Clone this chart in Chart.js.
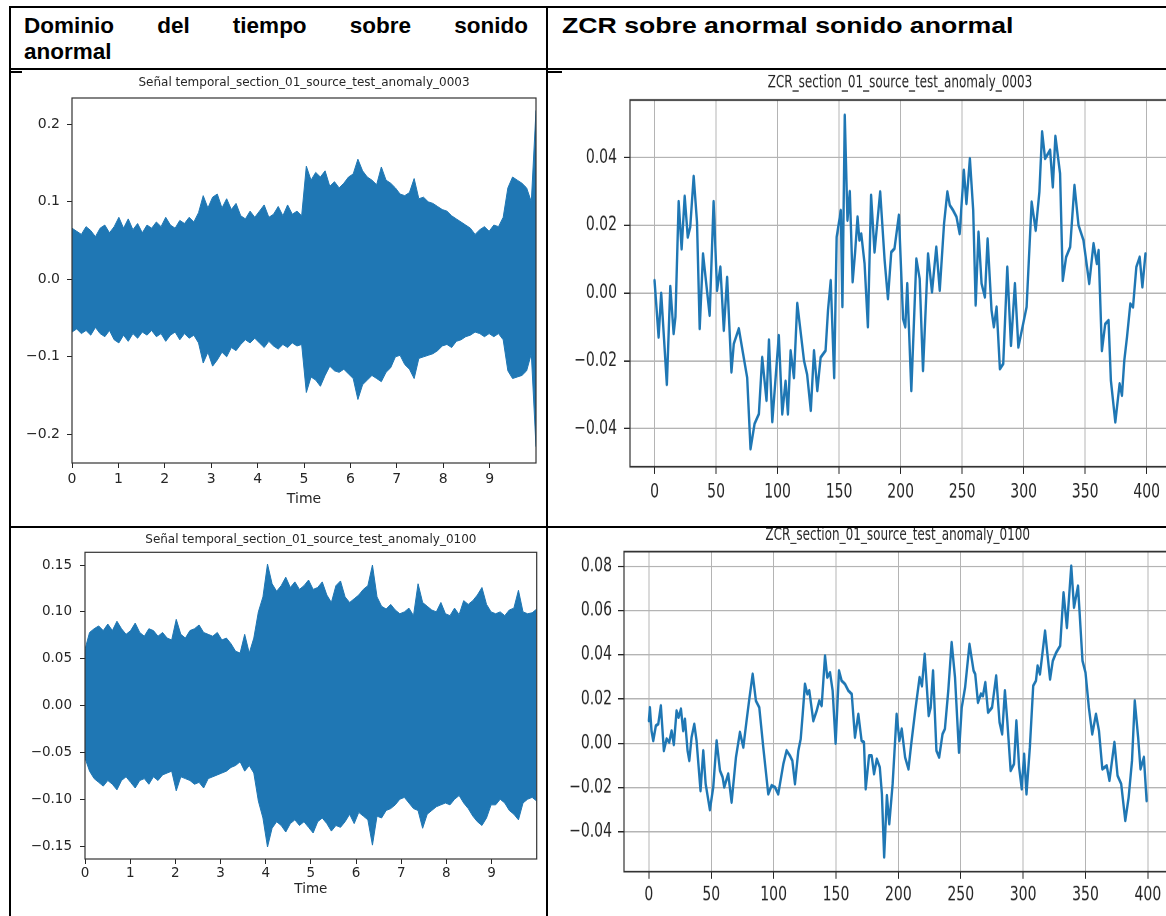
<!DOCTYPE html>
<html lang="es">
<head>
<meta charset="utf-8">
<title>Dominio del tiempo y ZCR sobre sonido anormal</title>
<script src="https://cdn.jsdelivr.net/npm/chart.js@4.4.1/dist/chart.umd.min.js"></script>
<style>
  html, body { margin: 0; padding: 0; background: #fff; overflow: hidden; }
  body { width: 1166px; height: 916px; position: relative; }
  .rule { position: absolute; background: #000; }
  .head { position: absolute; top: 12.5px; font: bold 22.5px/26px "Liberation Sans", Arial, sans-serif; color: #000; }
  #headLeft { left: 24px; width: 504px; }
  #headLeft .line1 { text-align: justify; text-align-last: justify; }
  #headRight { left: 562px; white-space: nowrap; transform: scaleX(1.184); transform-origin: left top; }
  canvas { position: absolute; }
  /* las figuras ZCR van estiradas en vertical */
  .zcr { transform: scaleY(1.4); transform-origin: left top; }
</style>
</head>
<body>

<div class="rule" style="left:9px; top:6px; width:1157px; height:2px"></div>
<div class="rule" style="left:9px; top:6px; width:2px; height:910px"></div>
<div class="rule" style="left:546px; top:6px; width:2px; height:910px"></div>
<div class="rule" style="left:9px; top:68px; width:1157px; height:2px"></div>
<div class="rule" style="left:9px; top:526px; width:1157px; height:2px"></div>
<div class="rule" style="left:11px; top:71px; width:11px; height:1.5px"></div>
<div class="rule" style="left:548px; top:71px; width:14px; height:1.5px"></div>

<div class="head" id="headLeft"><div class="line1">Dominio del tiempo sobre sonido</div><div>anormal</div></div>
<div class="head" id="headRight">ZCR sobre anormal sonido anormal</div>

<canvas id="wave0003" width="534" height="446" style="left:12px; top:72px"></canvas>
<canvas id="zcr0003" class="zcr" width="630" height="318" style="left:550px; top:72px"></canvas>
<canvas id="wave0100" width="534" height="387" style="left:12px; top:529px"></canvas>
<canvas id="zcr0100" class="zcr" width="632" height="277" style="left:550px; top:528px"></canvas>

<script>
// Señal temporal: envolvente (máximo / mínimo), 100 muestras repartidas en los 10 s
const waveSeconds = 10;

const wave0003Upper = [
  0.066, 0.062, 0.058, 0.068, 0.063, 0.055, 0.066, 0.070, 0.060, 0.068,
  0.080, 0.066, 0.078, 0.064, 0.072, 0.060, 0.070, 0.066, 0.074, 0.068,
  0.080, 0.070, 0.066, 0.076, 0.072, 0.080, 0.074, 0.086, 0.108, 0.092,
  0.106, 0.110, 0.092, 0.104, 0.090, 0.098, 0.082, 0.078, 0.088, 0.080,
  0.088, 0.096, 0.080, 0.084, 0.094, 0.082, 0.096, 0.084, 0.088, 0.082,
  0.146, 0.128, 0.138, 0.132, 0.140, 0.120, 0.126, 0.118, 0.124, 0.132,
  0.136, 0.155, 0.140, 0.132, 0.128, 0.122, 0.145, 0.128, 0.124, 0.118,
  0.110, 0.108, 0.112, 0.130, 0.104, 0.106, 0.100, 0.098, 0.094, 0.090,
  0.088, 0.082, 0.078, 0.074, 0.070, 0.066, 0.058, 0.064, 0.068, 0.062,
  0.070, 0.068, 0.080, 0.118, 0.132, 0.128, 0.124, 0.118, 0.100, 0.218
];
const wave0003Lower = [
  -0.068, -0.064, -0.070, -0.066, -0.072, -0.062, -0.070, -0.074, -0.066, -0.078,
  -0.082, -0.072, -0.080, -0.070, -0.076, -0.068, -0.072, -0.066, -0.074, -0.070,
  -0.080, -0.072, -0.068, -0.078, -0.070, -0.076, -0.072, -0.082, -0.108, -0.094,
  -0.112, -0.104, -0.094, -0.100, -0.088, -0.092, -0.084, -0.078, -0.082, -0.076,
  -0.082, -0.088, -0.080, -0.086, -0.090, -0.084, -0.088, -0.082, -0.086, -0.084,
  -0.146, -0.126, -0.130, -0.138, -0.124, -0.112, -0.118, -0.120, -0.116, -0.122,
  -0.128, -0.155, -0.136, -0.130, -0.124, -0.128, -0.132, -0.120, -0.114, -0.100,
  -0.098, -0.110, -0.116, -0.128, -0.102, -0.100, -0.098, -0.096, -0.092, -0.086,
  -0.084, -0.088, -0.080, -0.078, -0.074, -0.072, -0.068, -0.070, -0.074, -0.070,
  -0.074, -0.070, -0.078, -0.118, -0.128, -0.126, -0.124, -0.118, -0.096, -0.216
];

const wave0100Upper = [
  0.060, 0.078, 0.082, 0.085, 0.080, 0.087, 0.080, 0.090, 0.082, 0.076,
  0.080, 0.088, 0.078, 0.074, 0.082, 0.080, 0.074, 0.078, 0.072, 0.070,
  0.092, 0.076, 0.072, 0.080, 0.082, 0.086, 0.078, 0.076, 0.074, 0.078,
  0.070, 0.072, 0.066, 0.058, 0.056, 0.076, 0.056, 0.072, 0.100, 0.116,
  0.151, 0.130, 0.122, 0.128, 0.137, 0.126, 0.132, 0.124, 0.128, 0.134,
  0.124, 0.126, 0.132, 0.118, 0.110, 0.128, 0.133, 0.116, 0.110, 0.114,
  0.118, 0.124, 0.128, 0.150, 0.116, 0.106, 0.103, 0.108, 0.102, 0.098,
  0.100, 0.104, 0.096, 0.130, 0.110, 0.106, 0.102, 0.100, 0.110, 0.098,
  0.096, 0.104, 0.097, 0.112, 0.108, 0.112, 0.118, 0.126, 0.108, 0.100,
  0.098, 0.100, 0.096, 0.102, 0.104, 0.123, 0.100, 0.098, 0.099, 0.103
];
const wave0100Lower = [
  -0.056, -0.070, -0.078, -0.082, -0.086, -0.080, -0.084, -0.090, -0.080, -0.076,
  -0.082, -0.088, -0.080, -0.078, -0.084, -0.076, -0.080, -0.074, -0.072, -0.070,
  -0.091, -0.076, -0.078, -0.080, -0.084, -0.082, -0.088, -0.078, -0.076, -0.074,
  -0.072, -0.070, -0.066, -0.064, -0.060, -0.070, -0.064, -0.072, -0.102, -0.120,
  -0.151, -0.131, -0.124, -0.128, -0.135, -0.126, -0.122, -0.128, -0.124, -0.130,
  -0.136, -0.124, -0.120, -0.126, -0.134, -0.128, -0.130, -0.124, -0.116, -0.126,
  -0.114, -0.118, -0.122, -0.149, -0.118, -0.120, -0.112, -0.110, -0.106, -0.100,
  -0.098, -0.104, -0.110, -0.112, -0.131, -0.116, -0.112, -0.108, -0.106, -0.104,
  -0.106, -0.100, -0.096, -0.104, -0.110, -0.118, -0.124, -0.128, -0.120, -0.106,
  -0.106, -0.100, -0.104, -0.112, -0.116, -0.122, -0.104, -0.100, -0.098, -0.102
];

const timeTicks = [0, 1, 2, 3, 4, 5, 6, 7, 8, 9];
const timeLabels = ['0', '1', '2', '3', '4', '5', '6', '7', '8', '9'];
const wave0003YTicks = [-0.2, -0.1, 0, 0.1, 0.2];
const wave0003YLabels = ['\u22120.2', '\u22120.1', '0.0', '0.1', '0.2'];
const wave0100YTicks = [-0.15, -0.10, -0.05, 0, 0.05, 0.10, 0.15];
const wave0100YLabels = ['\u22120.15', '\u22120.10', '\u22120.05', '0.00', '0.05', '0.10', '0.15'];

// ZCR por trama
const zcr0003Frames = [
  0, 3.3, 5.4, 10, 12.8, 15.5, 17, 19.6, 22, 24.5, 27, 29, 31.8, 34.5, 36.7, 39.4,
  44.8, 48, 50.8, 53.5, 56.3, 59, 62.5, 64.4, 68.5, 72, 75.3, 78, 81.3, 84.8, 87.5,
  91, 93, 95.7, 101, 103.8, 106.5, 108.4, 110.6, 113.3, 116, 121.5, 124, 127, 129.6,
  132.3, 135, 139, 141, 143.2, 146, 148, 151.4, 152.7, 154.6, 156.8, 158.7, 161, 163,
  165, 166.5, 168, 170.7, 173.4, 176, 178.8, 183.4, 187, 189.7, 192.4, 195, 198.6,
  202, 203.8, 205.4, 208.7, 212.8, 215.5, 218.2, 222.3, 225.5, 229, 231.8, 235.3,
  238, 240, 242.7, 245.4, 248, 251.4, 253.5, 256.3, 259, 261, 263.3, 265.8, 268.5,
  270.7, 273.9, 275.8, 278, 280.7, 283.4, 286.7, 289.7, 292.9, 295.7, 302.4, 306.5,
  309.8, 312.8, 315, 317.4, 321.5, 323.7, 325.8, 329.6, 331.8, 334.5, 337.8, 341.3,
  344.6, 348.6, 353.3, 356.8, 359.5, 360.9, 363.6, 366.3, 369, 370.9, 374.5, 378,
  379.9, 381.8, 384, 386.7, 388.9, 391.6, 394.3, 396.5, 399
];
const zcr0003Values = [
  0.0037, -0.013, 0.0, -0.027, 0.002, -0.012, -0.007, 0.027, 0.013, 0.0286, 0.0165, 0.0195, 0.0345, 0.021, -0.0105, 0.0116,
  -0.0066, 0.027, 0.0008, 0.0077, -0.011, 0.0047, -0.0233, -0.015, -0.0105, -0.018, -0.025, -0.046, -0.0386, -0.0357, -0.019,
  -0.0317, -0.0138, -0.038, -0.0125, -0.0357, -0.026, -0.0357, -0.017, -0.025, -0.003, -0.02, -0.024, -0.0347, -0.017,
  -0.0288, -0.019, -0.017, -0.005, 0.0037, -0.025, 0.0165, 0.0244, -0.004, 0.0525, 0.0215, 0.030, 0.0033, 0.012,
  0.0225, 0.0156, 0.0175, 0.0087, -0.010, 0.0289, 0.0121, 0.0299, 0.0097, -0.0017, 0.0121, 0.0131, 0.023,
  -0.0076, -0.010, 0.0028, -0.0288, 0.0101, 0.0042, -0.0229, 0.0116, 0.0003, 0.0136, 0.0008, 0.0205,
  0.0299, 0.0259, 0.0244, 0.0225, 0.0175, 0.0363, 0.0264, 0.0397, 0.0244, -0.0036, 0.018, 0.0028, -0.0012,
  0.016, -0.0051, -0.010, -0.0041, -0.0224, -0.0209, 0.0077, -0.0155, 0.0028, -0.016, -0.0041, 0.0269,
  0.0185, 0.0299, 0.0476, 0.0397, 0.0422, 0.0313, 0.0463, 0.0353, 0.0037, 0.0106, 0.0136, 0.0318,
  0.02, 0.0156, 0.0028, 0.0146, 0.0087, 0.0126, -0.017, -0.0091, -0.0081, -0.0258, -0.0381, -0.0268,
  -0.0302, -0.0199, -0.013, -0.0032, -0.0041, 0.0077, 0.0106, 0.0018, 0.0116
];

const zcr0100Frames = [
  0, 0.8, 2.1, 3.5, 5.6, 7.5, 9.6, 12, 14.2, 16.3, 18.2, 20, 22.2, 23.8, 25.7, 27.5, 28.9,
  31, 32.4, 34.2, 36.4, 38.2, 41.4, 43.6, 45.5, 48.9, 51.6, 54.3, 57, 59.1, 60.4, 63.6,
  66.3, 69.8, 73, 75.7, 78.3, 80.5, 83.2, 85.8, 88.5, 91.7, 95.7, 98.4, 101, 103.7,
  107.8, 110.4, 113.1, 115, 117.1, 119.8, 121.7, 123.3, 125.1, 127, 128.6, 131.8,
  134.5, 136.6, 138.5, 141.2, 143, 145.2, 147.3, 149.7, 152.4, 154.5, 157.2, 159.9,
  162.6, 165.2, 167.9, 170.5, 172.4, 173.8, 176.5, 178.6, 180.5, 182.7, 185.1, 186.8,
  188.6, 190.8, 192.7, 195.4, 198.6, 200.8, 202.7, 205.4, 208.1, 210.3, 213.5, 217,
  218.9, 221.1, 224.3, 225.9, 227.8, 230.5, 232.7, 235.4, 237.3, 240, 242.7, 245.4,
  248.6, 250.8, 253.5, 257, 260.3, 261.6, 263.8, 266.2, 267.8, 269.7, 271.9, 275.1,
  278.4, 281.1, 283.2, 285.4, 287.3, 290, 292.7, 294.6, 296.8, 298.9, 300.8, 302.7,
  305.4, 308.1, 310.3, 311.6, 313.5, 315.1, 317.6, 319.2, 321.6, 323.8, 326.5, 329.7,
  332.4, 335.1, 338.6, 340.8, 344, 347.6, 350, 352.7, 355.4, 358.4, 360.8, 363.5, 367,
  369.2, 373.2, 375.7, 378.6, 381.9, 384.6, 387.3, 389.5, 392.2, 394.1, 396.8, 399
];
const zcr0100Values = [
  0.0102, 0.0162, 0.0057, 0.0012, 0.008, 0.0087, 0.017, -0.0033, 0.002, 0.0005, 0.0057, -0.0006, 0.0147, 0.0117, 0.0155, 0.0057, 0.011,
  -0.0033, -0.0078, 0.0027, 0.0087, 0.0012, -0.0214, -0.0033, -0.0183, -0.030, -0.0198, 0.0012, -0.0123, -0.0153, -0.0198, -0.0138,
  -0.0266, -0.0063, 0.005, -0.0018, 0.0102, 0.02, 0.0313, 0.0192, 0.0162, -0.0018, -0.0229, -0.0191, -0.0198, -0.0229,
  -0.0093, -0.0033, -0.0056, -0.0078, -0.0183, -0.0033, 0.002, 0.0132, 0.0268, 0.0223, 0.0238, 0.0102,
  0.0147, 0.0192, 0.017, 0.0395, 0.0298, 0.032, 0.0238, 0.0, 0.0328, 0.0283, 0.0268, 0.0238,
  0.0223, 0.0027, 0.0132, 0.0012, 0.0005, -0.0206, -0.0056, -0.0056, -0.0138, -0.0071, -0.0108, -0.0229,
  -0.0514, -0.0236, -0.0364, -0.0183, 0.0132, 0.0012, 0.0065, -0.0063, -0.0116, -0.0003, 0.0147, 0.0298,
  0.026, 0.0403, 0.0125, 0.0162, 0.0328, -0.0033, -0.0063, 0.0042, 0.0065, 0.0238, 0.0456, 0.0298,
  -0.0041, 0.0162, 0.0253, 0.0448, 0.0328, 0.0313, 0.0185, 0.0223, 0.0215, 0.0275, 0.014, 0.0162,
  0.0305, 0.0095, 0.0042, 0.0238, 0.0102, -0.0123, -0.0093, 0.0102, -0.0108, -0.0206, -0.0048, -0.0229,
  -0.0018, 0.026, 0.0283, 0.035, 0.0313, 0.0388, 0.0508, 0.0418, 0.029, 0.0373, 0.041, 0.0441,
  0.0681, 0.0523, 0.0801, 0.0614, 0.0711, 0.0373, 0.032, 0.0162, 0.0042, 0.0132, 0.0057, -0.0116, -0.0101,
  -0.0168, 0.0005, -0.0146, -0.0183, -0.0349, -0.0244, -0.0078, 0.0192, 0.0027, -0.0116, -0.0063, -0.0259
];

const frameTicks = [0, 50, 100, 150, 200, 250, 300, 350, 400];
const frameLabels = ['0', '50', '100', '150', '200', '250', '300', '350', '400'];
const zcr0003YTicks = [-0.04, -0.02, 0, 0.02, 0.04];
const zcr0003YLabels = ['\u22120.04', '\u22120.02', '0.00', '0.02', '0.04'];
const zcr0100YTicks = [-0.04, -0.02, 0, 0.02, 0.04, 0.06, 0.08];
const zcr0100YLabels = ['\u22120.04', '\u22120.02', '0.00', '0.02', '0.04', '0.06', '0.08'];

const BLUE = '#1f77b4';
const INK = '#262626';
const FONT = "'DejaVu Sans', sans-serif";

// marco completo alrededor del área de datos
const framePlugin = {
  id: 'frame',
  afterDatasetsDraw(chart) {
    const { ctx, chartArea: a } = chart;
    ctx.save();
    ctx.strokeStyle = '#333';
    ctx.lineWidth = 1.2;
    ctx.strokeRect(a.left, a.top, a.right - a.left, a.bottom - a.top);
    ctx.restore();
  }
};

// título centrado sobre el área de datos
const plotTitlePlugin = {
  id: 'plotTitle',
  afterDraw(chart, args, opts) {
    const { ctx, chartArea: a } = chart;
    ctx.save();
    ctx.font = '12px ' + FONT;
    ctx.fillStyle = INK;
    ctx.textAlign = 'center';
    ctx.textBaseline = 'middle';
    ctx.fillText(opts.text, (a.left + a.right) / 2, opts.y);
    ctx.restore();
  }
};

function axis(o) {
  return {
    type: 'linear',
    min: o.min,
    max: o.max,
    offset: false,
    afterBuildTicks: s => { s.ticks = o.ticks.map(v => ({ value: v })); },
    afterFit: s => { if (s.isHorizontal()) s.height = o.size; else s.width = o.size; },
    border: { display: false },
    grid: {
      offset: false,
      drawOnChartArea: !!o.grid,
      color: '#b4b4b4',
      lineWidth: 1,
      tickColor: INK,
      tickLength: o.tickLength,
      drawTicks: true
    },
    ticks: {
      autoSkip: false,
      maxRotation: 0,
      padding: o.pad,
      color: INK,
      font: { family: FONT, size: o.font },
      callback: (v, i) => o.labels[i]
    },
    title: o.title
      ? { display: true, text: o.title, color: INK, font: { family: FONT, size: o.font }, padding: { top: 0, bottom: o.titlePad } }
      : { display: false }
  };
}

// banda de la forma de onda: relleno entre envolvente superior e inferior
function waveChart(id, upper, lower, cfg) {
  const times = upper.map((_, i) => i * waveSeconds / (upper.length - 1));
  const edge = { borderColor: BLUE, backgroundColor: BLUE, borderWidth: 1, pointRadius: 0, tension: 0 };
  return new Chart(document.getElementById(id), {
    type: 'line',
    data: {
      datasets: [
        { ...edge, data: times.map((t, i) => ({ x: t, y: upper[i] })), fill: '+1' },
        { ...edge, data: times.map((t, i) => ({ x: t, y: lower[i] })), fill: false }
      ]
    },
    options: {
      responsive: false,
      animation: false,
      events: [],
      layout: { padding: cfg.padding },
      plugins: { legend: { display: false }, tooltip: { enabled: false }, plotTitle: { text: cfg.title, y: cfg.titleY } },
      scales: {
        x: axis({ min: 0, max: waveSeconds, ticks: timeTicks, labels: timeLabels, size: cfg.xSize, tickLength: 5, pad: cfg.xPad, font: cfg.font, title: 'Time', titlePad: cfg.titlePad }),
        y: axis({ min: cfg.yMin, max: cfg.yMax, ticks: cfg.yTicks, labels: cfg.yLabels, size: cfg.ySize, tickLength: 5, pad: cfg.yPad, font: cfg.font })
      }
    },
    plugins: [framePlugin, plotTitlePlugin]
  });
}

function zcrChart(id, frames, values, cfg) {
  return new Chart(document.getElementById(id), {
    type: 'line',
    data: {
      datasets: [{
        data: frames.map((f, i) => ({ x: f, y: values[i] })),
        borderColor: BLUE,
        borderWidth: 2.4,
        borderJoinStyle: 'round',
        borderCapStyle: 'round',
        pointRadius: 0,
        tension: 0,
        fill: false
      }]
    },
    options: {
      responsive: false,
      animation: false,
      events: [],
      devicePixelRatio: 2,
      layout: { padding: cfg.padding },
      plugins: { legend: { display: false }, tooltip: { enabled: false }, plotTitle: { text: cfg.title, y: cfg.titleY } },
      scales: {
        x: axis({ min: -19.95, max: 418.95, ticks: frameTicks, labels: frameLabels, size: cfg.xSize, tickLength: 5, pad: cfg.xPad, font: 14, grid: true }),
        y: axis({ min: cfg.yMin, max: cfg.yMax, ticks: cfg.yTicks, labels: cfg.yLabels, size: cfg.ySize, tickLength: 6, pad: cfg.yPad, font: 14, grid: true })
      }
    },
    plugins: [framePlugin, plotTitlePlugin]
  });
}

waveChart('wave0003', wave0003Upper, wave0003Lower, {
  title: 'Señal temporal_section_01_source_test_anomaly_0003', titleY: 11.3,
  padding: { left: 0, top: 26, right: 10, bottom: 0 },
  yMin: -0.237, yMax: 0.234, yTicks: wave0003YTicks, yLabels: wave0003YLabels,
  ySize: 60, xSize: 55, xPad: 3, yPad: 7, font: 14, titlePad: 10.6
});

waveChart('wave0100', wave0100Upper, wave0100Lower, {
  title: 'Señal temporal_section_01_source_test_anomaly_0100', titleY: 11,
  padding: { left: 0, top: 23.3, right: 9.3, bottom: 0 },
  yMin: -0.1638, yMax: 0.1636, yTicks: wave0100YTicks, yLabels: wave0100YLabels,
  ySize: 73, xSize: 57, xPad: 1, yPad: 8, font: 13.5, titlePad: 18.9
});

zcrChart('zcr0003', zcr0003Frames, zcr0003Values, {
  title: 'ZCR_section_01_source_test_anomaly_0003', titleY: 8.1,
  padding: { left: 0, top: 20, right: 10, bottom: 0 },
  yMin: -0.0513, yMax: 0.0570, yTicks: zcr0003YTicks, yLabels: zcr0003YLabels,
  ySize: 80, xSize: 36, xPad: 5, yPad: 7
});

zcrChart('zcr0100', zcr0100Frames, zcr0100Values, {
  title: 'ZCR_section_01_source_test_anomaly_0100', titleY: 5.6,
  padding: { left: 0, top: 16.9, right: 10.5, bottom: 0 },
  yMin: -0.058, yMax: 0.0866, yTicks: zcr0100YTicks, yLabels: zcr0100YLabels,
  ySize: 74, xSize: 31.5, xPad: 3.5, yPad: 6
});
</script>
</body>
</html>
